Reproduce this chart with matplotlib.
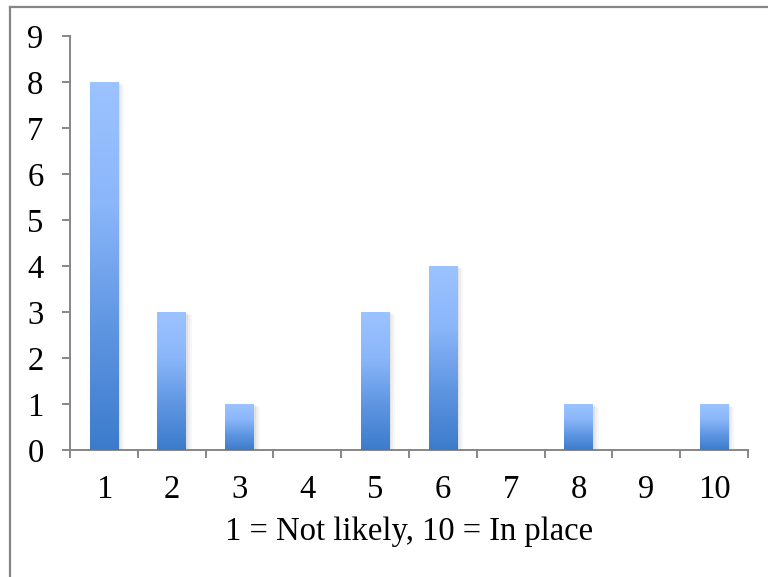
import numpy as np
import matplotlib
matplotlib.use("Agg")
import matplotlib.pyplot as plt
from matplotlib.colors import LinearSegmentedColormap
from matplotlib.lines import Line2D

categories = ["1", "2", "3", "4", "5", "6", "7", "8", "9", "10"]
counts = [8, 3, 1, 0, 3, 4, 0, 1, 0, 1]
y_ticks = [0, 1, 2, 3, 4, 5, 6, 7, 8, 9]
x_title = "1 = Not likely, 10 = In place"

plt.rcParams["font.family"] = ["Liberation Serif", "DejaVu Serif"]
FS = 23.5

fig = plt.figure(figsize=(7.68, 5.77), dpi=100)
fig.patch.set_facecolor("white")
ax = fig.add_axes([70 / 768, 1 - 450 / 577, 678 / 768, 414 / 577])

x = np.arange(1, len(categories) + 1)
bars = ax.bar(x, counts, width=0.42, color="none", edgecolor="none", zorder=3)

grad = LinearSegmentedColormap.from_list(
    "bar_grad", ["#3c7bcc", "#5f96e2", "#8ab6fa", "#9cc3ff"])
grad_img = np.linspace(0, 1, 256).reshape(-1, 1)

for rect in bars:
    h = rect.get_height()
    if h <= 0:
        continue
    x0 = rect.get_x()
    w = rect.get_width()
    # soft drop shadow
    for i, a in enumerate([0.05, 0.04, 0.03]):
        off = 0.02 + i * 0.02
        ax.add_patch(plt.Rectangle((x0 + off * 0.5, 0), w + off, h - 0.03 - i * 0.02,
                                   facecolor="black", edgecolor="none",
                                   alpha=a, zorder=2))
    im = ax.imshow(grad_img, cmap=grad, origin="lower", aspect="auto",
                   extent=(x0, x0 + w, 0, h), zorder=3, interpolation="bilinear")
    im.set_clip_path(rect)

ax.set_xlim(0.5, len(categories) + 0.5)
ax.set_ylim(0, 9)

spine_color = "#868686"
for side in ["top", "right"]:
    ax.spines[side].set_visible(False)
for side in ["left", "bottom"]:
    ax.spines[side].set_color(spine_color)
    ax.spines[side].set_linewidth(1.4)

ax.set_yticks(y_ticks)
ax.set_yticklabels([str(v) for v in y_ticks])
ax.set_xticks(x)
ax.set_xticklabels(categories)
ax.set_xticks(np.arange(0.5, len(categories) + 1, 1.0), minor=True)

ax.tick_params(axis="y", direction="out", length=6, width=1.4, color=spine_color,
               labelsize=FS, pad=13)
ax.tick_params(axis="x", which="major", length=0, labelsize=FS, pad=18)
ax.tick_params(axis="x", which="minor", direction="out", length=6, width=1.4,
               color=spine_color)

ax.set_xlabel(x_title, fontsize=FS, labelpad=8)

# outer frame of the chart area
fig.add_artist(Line2D([9.5 / 768, 9.5 / 768], [0, 1 - 6.5 / 577],
                      transform=fig.transFigure, color=spine_color, linewidth=1.6))
fig.add_artist(Line2D([9.5 / 768, 1], [1 - 6.5 / 577, 1 - 6.5 / 577],
                      transform=fig.transFigure, color=spine_color, linewidth=1.6))

fig.savefig("out.png", dpi=100, facecolor="white")
